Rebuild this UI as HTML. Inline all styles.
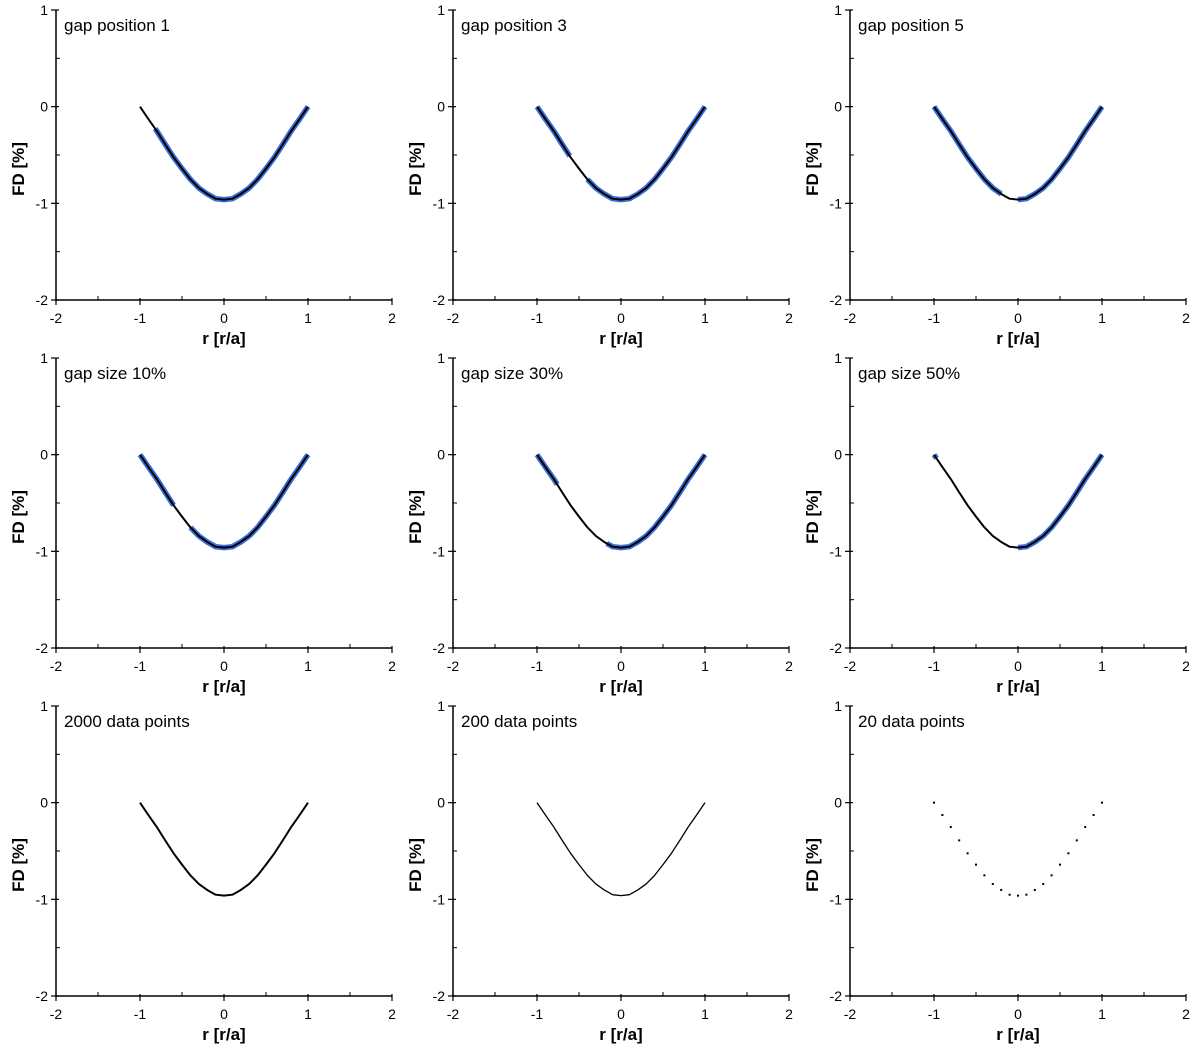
<!DOCTYPE html>
<html><head><meta charset="utf-8"><style>
body{margin:0;background:#fff;}
svg{display:block;font-family:"Liberation Sans",Arial,sans-serif;}
</style></head><body>
<svg id="c" width="1200" height="1049" viewBox="0 0 1200 1049"></svg>
<script>
const rVals=[-1,-0.9,-0.8,-0.7,-0.6,-0.5,-0.4,-0.3,-0.2,-0.1,0,0.1,0.2,0.3,0.4,0.5,0.6,0.7,0.8,0.9,1];
const fdVals=[0,-0.128,-0.252,-0.390,-0.524,-0.641,-0.752,-0.841,-0.903,-0.952,-0.962,-0.952,-0.903,-0.841,-0.752,-0.641,-0.524,-0.390,-0.252,-0.128,0];
const panelTitles=["gap position 1","gap position 3","gap position 5","gap size 10%","gap size 30%","gap size 50%","2000 data points","200 data points","20 data points"];
const gapStart=[-1,-0.61,-0.2,-0.6,-0.76,-0.97,null,null,null];
const gapEnd=[-0.82,-0.4,0,-0.4,-0.17,0,null,null,null];
const xTicks=[-2,-1,0,1,2];
const yTicks=[1,0,-1,-2];
const colX=[56,453,850], rowY=[10,358,706];
const W=336,H=290;
const NS="http://www.w3.org/2000/svg";
const svg=document.getElementById('c');
function mk(t,a,p){const e=document.createElementNS(NS,t);for(const k in a)e.setAttribute(k,a[k]);(p||svg).appendChild(e);return e;}
function interp(r){for(let i=0;i<rVals.length-1;i++){if(r>=rVals[i]&&r<=rVals[i+1]){const t=(r-rVals[i])/(rVals[i+1]-rVals[i]);return fdVals[i]+t*(fdVals[i+1]-fdVals[i]);}}return 0;}
for(let p=0;p<9;p++){
  const x0=colX[p%3], y0=rowY[Math.floor(p/3)];
  const sx=v=>x0+(v+2)/4*W, sy=v=>y0+(1-v)/3*H;
  const g=mk('g',{});
  
  
  const ax=mk('path',{d:`M${x0},${y0} V${y0+H} H${x0+W}`,stroke:'#000','stroke-width':1.5,fill:'none'},g);
  
  
  xTicks.forEach(v=>{mk('line',{x1:sx(v),x2:sx(v),y1:y0+H-2,y2:y0+H+5,stroke:'#000','stroke-width':1.2},g);
    const t=mk('text',{x:sx(v),y:y0+H+23,'text-anchor':'middle','font-size':14},g);t.textContent=v;
    
    if(v<2)mk('line',{x1:sx(v+0.5),x2:sx(v+0.5),y1:y0+H,y2:y0+H-4,stroke:'#000','stroke-width':1},g);});
  yTicks.forEach(v=>{mk('line',{x1:x0-5,x2:x0+3,y1:sy(v),y2:sy(v),stroke:'#000','stroke-width':1.2},g);
    const t=mk('text',{x:x0-8,y:sy(v)+5,'text-anchor':'end','font-size':14},g);t.textContent=v;
    
    if(v>-2)mk('line',{x1:x0,x2:x0+4,y1:sy(v-0.5),y2:sy(v-0.5),stroke:'#000','stroke-width':1},g);});
  const xt=mk('text',{x:x0+W/2,y:y0+H+44,'text-anchor':'middle','font-size':17,'font-weight':'bold'},g);xt.textContent='r [r/a]';
  
  const yx=x0-32,yy=y0+H/2+14;
  const yt=mk('text',{x:yx,y:yy,'text-anchor':'middle','font-size':17,'font-weight':'bold',transform:`rotate(-90 ${yx} ${yy})`},g);yt.textContent='FD [%]';
  
  const tt=mk('text',{x:x0+8,y:y0+21,'font-size':17},g);tt.textContent=panelTitles[p];
  
  const pts=rVals.map((r,i)=>[sx(r),sy(fdVals[i])]);
  if(p<6){
    const segs=[[-1,gapStart[p]],[gapEnd[p],1]];
    segs.forEach(s=>{if(s[1]-s[0]<0.02)return;const arr=[];
      const rs=[s[0],...rVals.filter(r=>r>s[0]&&r<s[1]),s[1]];
      rs.forEach(r=>arr.push(sx(r)+','+sy(interp(r))));
      const b=mk('polyline',{points:arr.join(' '),stroke:'#3b6fd6','stroke-width':5.5,fill:'none','stroke-linejoin':'round'},g);
      });
  }
  if(p<8){
    const l=mk('polyline',{points:pts.map(q=>q.join(',')).join(' '),stroke:'#000','stroke-width':p==7?1.3:2,fill:'none','stroke-linejoin':'round'},g);
    
  } else {
    pts.forEach(q=>{const d=mk('rect',{x:q[0]-1,y:q[1]-1,width:2,height:2,fill:'#000'},g);
      });
  }
}
</script>
</body></html>
